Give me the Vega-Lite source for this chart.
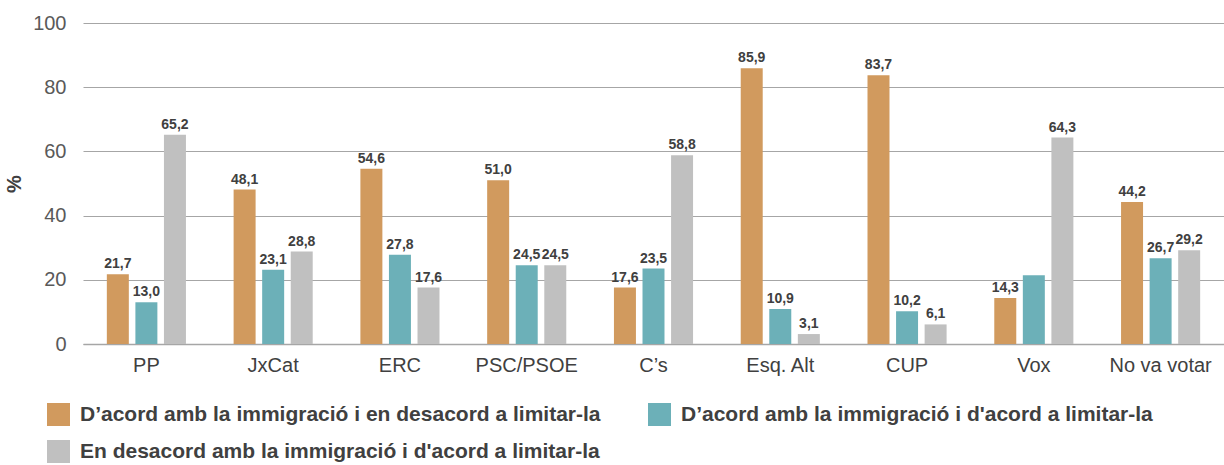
{
  "$schema": "https://vega.github.io/schema/vega-lite/v6.json",
  "autosize": "none",
  "padding": {"left": 83, "top": 23, "right": 0, "bottom": 121},
  "width": 1141,
  "height": 321,
  "config": {
    "view": {"stroke": null},
    "font": "Liberation Sans",
    "locale": {"number": {"decimal": ",", "thousands": ".", "grouping": [3], "currency": ["", " €"]}}
  },
  "data": {
    "values": [
      {"party": "PP", "series": "A", "value": 21.7},
      {"party": "PP", "series": "B", "value": 13.0},
      {"party": "PP", "series": "C", "value": 65.2},
      {"party": "JxCat", "series": "A", "value": 48.1},
      {"party": "JxCat", "series": "B", "value": 23.1},
      {"party": "JxCat", "series": "C", "value": 28.8},
      {"party": "ERC", "series": "A", "value": 54.6},
      {"party": "ERC", "series": "B", "value": 27.8},
      {"party": "ERC", "series": "C", "value": 17.6},
      {"party": "PSC/PSOE", "series": "A", "value": 51.0},
      {"party": "PSC/PSOE", "series": "B", "value": 24.5},
      {"party": "PSC/PSOE", "series": "C", "value": 24.5},
      {"party": "C’s", "series": "A", "value": 17.6},
      {"party": "C’s", "series": "B", "value": 23.5},
      {"party": "C’s", "series": "C", "value": 58.8},
      {"party": "Esq. Alt", "series": "A", "value": 85.9},
      {"party": "Esq. Alt", "series": "B", "value": 10.9},
      {"party": "Esq. Alt", "series": "C", "value": 3.1},
      {"party": "CUP", "series": "A", "value": 83.7},
      {"party": "CUP", "series": "B", "value": 10.2},
      {"party": "CUP", "series": "C", "value": 6.1},
      {"party": "Vox", "series": "A", "value": 14.3},
      {"party": "Vox", "series": "B", "value": 21.4},
      {"party": "Vox", "series": "C", "value": 64.3},
      {"party": "No va votar", "series": "A", "value": 44.2},
      {"party": "No va votar", "series": "B", "value": 26.7},
      {"party": "No va votar", "series": "C", "value": 29.2}
    ]
  },
  "transform": [
    {"lookup": "series", "from": {"data": {"values": [
      {"series": "A", "name": "D’acord amb la immigració i en desacord a limitar-la"},
      {"series": "B", "name": "D’acord amb la immigració i d'acord a limitar-la"},
      {"series": "C", "name": "En desacord amb la immigració i d'acord a limitar-la"}
    ]}, "key": "series", "fields": ["name"]}}
  ],
  "encoding": {
    "x": {
      "field": "party", "type": "nominal", "sort": null,
      "scale": {"paddingInner": 0.376, "paddingOuter": 0.188},
      "axis": {
        "title": null, "labelAngle": 0, "labelFontSize": 20, "labelColor": "#404040",
        "labelPadding": 11, "ticks": false, "domainColor": "#A6A6A6", "domainWidth": 1.5
      }
    },
    "xOffset": {"field": "series", "type": "nominal", "sort": ["A", "B", "C"], "scale": {"paddingInner": 0.23, "paddingOuter": 0}},
    "y": {
      "field": "value", "type": "quantitative",
      "scale": {"domain": [0, 100], "nice": false},
      "axis": {
        "title": "%", "titleFontSize": 20, "titleFontWeight": "bold", "titleColor": "#404040", "titlePadding": 8,
        "values": [0, 20, 40, 60, 80, 100], "labelFontSize": 20, "labelColor": "#595959", "labelPadding": 17,
        "ticks": false, "domain": false, "gridColor": "#A6A6A6", "gridWidth": 1.2
      }
    }
  },
  "layer": [
    {
      "mark": {"type": "bar"},
      "encoding": {
        "color": {
          "field": "name", "type": "nominal",
          "scale": {
            "domain": ["D’acord amb la immigració i en desacord a limitar-la", "D’acord amb la immigració i d'acord a limitar-la", "En desacord amb la immigració i d'acord a limitar-la"],
            "range": ["#D19A5E", "#6CB0B8", "#C0C0C0"]
          },
          "legend": {
            "title": null, "orient": "none", "legendX": -36, "legendY": 380, "direction": "horizontal", "columns": 2,
            "padding": 0, "symbolType": "square", "symbolSize": 529, "symbolStrokeWidth": 0, "symbolOpacity": 1,
            "labelFontSize": 21, "labelFontWeight": "bold", "labelColor": "#404040", "labelLimit": 900, "labelOffset": 10,
            "rowPadding": 14, "columnPadding": 47
          }
        }
      }
    },
    {
      "transform": [{"filter": "!(datum.party == 'Vox' && datum.series == 'B')"}],
      "mark": {"type": "text", "baseline": "bottom", "dy": -3, "fontSize": 14, "fontWeight": "bold", "color": "#404040"},
      "encoding": {"text": {"field": "value", "type": "quantitative", "format": ".1f"}}
    }
  ]
}
